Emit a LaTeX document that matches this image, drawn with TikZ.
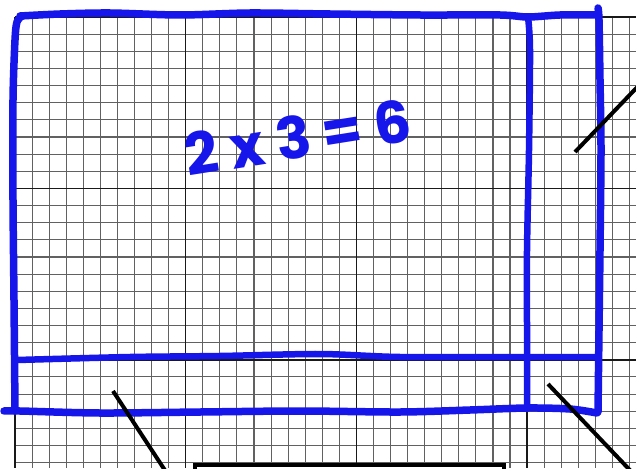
\documentclass[tikz,border=0pt]{standalone}
\usepackage{fontspec}
\newfontfamily\handfont{Poppins}
\definecolor{penblue}{RGB}{22,22,235}
\begin{document}
\begin{tikzpicture}[x=1pt,y=-1pt,
  minorline/.style={black!62,line width=1.1pt},
  majorline/.style={black!90,line width=1.4pt},
  pen/.style={penblue,line width=7.5pt,line cap=round,line join=round},
  thinpen/.style={penblue,line width=6.5pt,line cap=round,line join=round},
  callout/.style={black,line width=4pt},
  labelbox/.style={draw=black,line width=3.5pt,fill=white,minimum width=309pt,minimum height=60pt,inner sep=0pt,anchor=north west},
  handtext/.style={text=penblue,font=\handfont\bfseries\fontsize{58}{58}\selectfont,inner sep=0pt}]
\useasboundingbox (0,0) rectangle (636,468);
\clip (0,0) rectangle (636,468);
\fill[white] (0,0) rectangle (636,468);
% graph paper
\foreach \i in {0,...,36} \draw[minorline] ({15+17.07*\i},17) -- ({15+17.07*\i},468);
\foreach \j in {0,...,26} \draw[minorline] (15,{17+17.14*\j}) -- (636,{17+17.14*\j});
\foreach \i in {0,10,20,30} \draw[majorline] ({15+17.07*\i},17) -- ({15+17.07*\i},468);
\foreach \j in {0,10,20} \draw[majorline] (15,{17+17.14*\j}) -- (636,{17+17.14*\j});
% blue hand-drawn rectangle
\draw[pen] plot[smooth,tension=0.5] coordinates {(15,411) (14,300) (13,200) (13,100) (15,40) (17,22) (22,16)};
\draw[pen] plot[smooth,tension=0.5] coordinates {(20,16) (60,14) (110,13) (180,15) (250,13) (330,14) (420,15) (500,15) (528,17) (560,15) (598,15)};
\draw[pen] plot[smooth,tension=0.5] coordinates {(598,8) (599,20) (600,80) (601,150) (600,250) (599,330) (598,412)};
\draw[pen] plot[smooth,tension=0.5] coordinates {(4,411) (20,411) (100,413) (200,412) (300,411) (400,412) (470,410) (527,408) (570,409) (597,413)};
\draw[thinpen] plot[smooth,tension=0.5] coordinates {(17,360) (130,357) (220,356) (320,354) (400,357) (527,357) (598,357)};
\draw[thinpen] plot[smooth,tension=0.5] coordinates {(528,17) (530,50) (529,150) (527,250) (527,330) (527,408)};
% equation
\node[handtext,rotate=9] (eq) at (298,137) {2 x 3 = 6};
% callouts
\coordinate (c1a) at (575,152); \coordinate (c1b) at (645,79);
\coordinate (c2a) at (113,391); \coordinate (c2b) at (170,478);
\coordinate (c3a) at (548,384); \coordinate (c3b) at (645,486);
\draw[callout] (c1a) -- (c1b);
\draw[callout] (c2a) -- (c2b);
\draw[callout] (c3a) -- (c3b);
% label box (cut by the page edge)
\node[labelbox] (lbl) at (193,463) {};
\end{tikzpicture}
\end{document}
